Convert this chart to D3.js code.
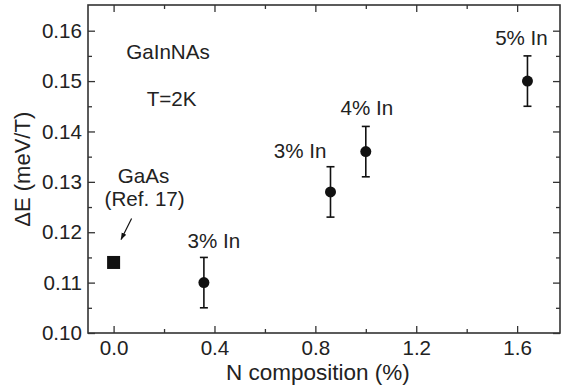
<!DOCTYPE html>
<html lang="en">
<head>
  <meta charset="utf-8">
  <title>Zeeman splitting vs N composition</title>
  <script src="https://d3js.org/d3.v7.min.js"></script>
  <style>
    body {
      margin: 0;
      padding: 0;
      background: #fff;
    }
    svg text {
      font-family: Arial, "Liberation Sans", Helvetica, sans-serif;
      fill: #222;
    }
  </style>
</head>
<body>
  <div id="chart"></div>
  <script>
    // Data
    const nComp = [0.358, 0.86, 1.0, 1.641];
    const deltaE = [0.110, 0.128, 0.136, 0.150];
    const errE = [0.005, 0.005, 0.005, 0.005];
    const inLabels = ["3% In", "3% In", "4% In", "5% In"];

    // GaAs reference point
    const refX = [0.0];
    const refY = [0.114];

    const xTicks = [0.0, 0.4, 0.8, 1.2, 1.6];
    const xMinor = [0.2, 0.6, 1.0, 1.4];
    const yTicks = [0.10, 0.11, 0.12, 0.13, 0.14, 0.15, 0.16];
    const yMinor = [0.105, 0.115, 0.125, 0.135, 0.145, 0.155];

    const W = 561, H = 392;
    const margin = { top: 5, right: 1, bottom: 59, left: 88 };
    const width = W - margin.left - margin.right;
    const height = H - margin.top - margin.bottom;
    const fs = "20.6px";

    const svg = d3.select("#chart")
      .append("svg")
      .attr("width", W)
      .attr("height", H);

    const g = svg.append("g")
      .attr("transform", `translate(${margin.left},${margin.top})`);

    const x = d3.scaleLinear().domain([-0.1015, 1.77]).range([0, width]);
    const y = d3.scaleLinear().domain([0.1, 0.1651]).range([height, 0]);

    const axisColor = "#333";
    const fmt = d3.format(".2f");

    // Axes with inward ticks
    const axB = g.append("g")
      .attr("transform", `translate(0,${height})`)
      .call(d3.axisBottom(x).tickValues(xTicks).tickFormat(d3.format(".1f"))
        .tickSize(-7).tickPadding(7));
    axB.append("g").call(d3.axisBottom(x).tickValues(xMinor).tickFormat("").tickSize(-4));

    const axT = g.append("g")
      .call(d3.axisTop(x).tickValues(xTicks).tickFormat("").tickSize(-7));
    axT.append("g").call(d3.axisTop(x).tickValues(xMinor).tickFormat("").tickSize(-4));

    const axL = g.append("g")
      .call(d3.axisLeft(y).tickValues(yTicks).tickFormat(fmt)
        .tickSize(-7).tickPadding(6));
    axL.append("g").call(d3.axisLeft(y).tickValues(yMinor).tickFormat("").tickSize(-4));

    const axR = g.append("g")
      .attr("transform", `translate(${width},0)`)
      .call(d3.axisRight(y).tickValues(yTicks).tickFormat("").tickSize(-7));
    axR.append("g").call(d3.axisRight(y).tickValues(yMinor).tickFormat("").tickSize(-4));

    g.selectAll(".domain").remove();
    g.selectAll(".tick line").attr("stroke", axisColor).attr("stroke-width", 1.3);
    g.selectAll(".tick text").style("font-size", fs).attr("fill", "#222");

    // Frame
    g.append("rect")
      .attr("width", width)
      .attr("height", height)
      .attr("fill", "none")
      .attr("stroke", axisColor)
      .attr("stroke-width", 1.6);

    // Axis titles
    svg.append("text")
      .attr("x", margin.left + x(0.81))
      .attr("y", 380)
      .attr("text-anchor", "middle")
      .style("font-size", "22.5px")
      .text("N composition (%)");

    svg.append("text")
      .attr("transform", `translate(30,${margin.top + y(0.1325)}) rotate(-90)`)
      .attr("text-anchor", "middle")
      .style("font-size", "22px")
      .text("\u0394E (meV/T)");

    // Error bars
    const pts = nComp.map((d, i) => ({ x: d, y: deltaE[i], e: errE[i], label: inLabels[i] }));
    const eb = g.selectAll(".eb").data(pts).enter().append("g").attr("class", "eb")
      .attr("stroke", "#111").attr("stroke-width", 1.6);
    eb.append("line")
      .attr("x1", d => x(d.x)).attr("x2", d => x(d.x))
      .attr("y1", d => y(d.y - d.e)).attr("y2", d => y(d.y + d.e));
    eb.append("line")
      .attr("x1", d => x(d.x) - 4).attr("x2", d => x(d.x) + 4)
      .attr("y1", d => y(d.y + d.e)).attr("y2", d => y(d.y + d.e));
    eb.append("line")
      .attr("x1", d => x(d.x) - 4).attr("x2", d => x(d.x) + 4)
      .attr("y1", d => y(d.y - d.e)).attr("y2", d => y(d.y - d.e));

    g.selectAll(".pt").data(pts).enter().append("circle")
      .attr("class", "pt")
      .attr("cx", d => x(d.x))
      .attr("cy", d => y(d.y))
      .attr("r", 5.5)
      .attr("fill", "#111");

    // GaAs square
    const sq = 13;
    g.selectAll(".ref").data(refX).enter().append("rect")
      .attr("class", "ref")
      .attr("x", (d) => x(d) - sq / 2)
      .attr("y", (d, i) => y(refY[i]) - sq / 2)
      .attr("width", sq)
      .attr("height", sq)
      .attr("fill", "#111");

    // In-content labels: offsets relative to each point
    const labelOffsets = [
      { dx: 10, dy: -35, anchor: "middle" },
      { dx: -4, dy: -34, anchor: "end" },
      { dx: 1, dy: -37, anchor: "middle" },
      { dx: -6, dy: -36, anchor: "middle" }
    ];
    g.selectAll(".inlab").data(pts).enter().append("text")
      .attr("class", "inlab")
      .attr("x", (d, i) => x(d.x) + labelOffsets[i].dx)
      .attr("y", (d, i) => y(d.y) + labelOffsets[i].dy)
      .attr("text-anchor", (d, i) => labelOffsets[i].anchor)
      .style("font-size", fs)
      .text(d => d.label);

    // GaAs annotation
    const rx = x(refX[0]), ry = y(refY[0]);
    g.append("text")
      .attr("x", rx + 30).attr("y", ry - 79)
      .attr("text-anchor", "middle")
      .style("font-size", fs)
      .text("GaAs");
    g.append("text")
      .attr("x", rx + 31).attr("y", ry - 56)
      .attr("text-anchor", "middle")
      .style("font-size", fs)
      .text("(Ref. 17)");

    svg.append("defs").append("marker")
      .attr("id", "arrow")
      .attr("viewBox", "0 0 10 10")
      .attr("refX", 9).attr("refY", 5)
      .attr("markerWidth", 6).attr("markerHeight", 6)
      .attr("orient", "auto")
      .append("path")
      .attr("d", "M0,1.5 L10,5 L0,8.5 Z")
      .attr("fill", "#111");

    g.append("line")
      .attr("x1", rx + 18).attr("y1", ry - 44)
      .attr("x2", rx + 7.5).attr("y2", ry - 23)
      .attr("stroke", "#111")
      .attr("stroke-width", 1.2)
      .attr("marker-end", "url(#arrow)");

    // Sample info
    g.append("text")
      .attr("x", x(0.05)).attr("y", y(0.1543))
      .style("font-size", fs)
      .text("GaInNAs");
    g.append("text")
      .attr("x", x(0.131)).attr("y", y(0.1451))
      .style("font-size", fs)
      .text("T=2K");
  </script>
</body>
</html>
